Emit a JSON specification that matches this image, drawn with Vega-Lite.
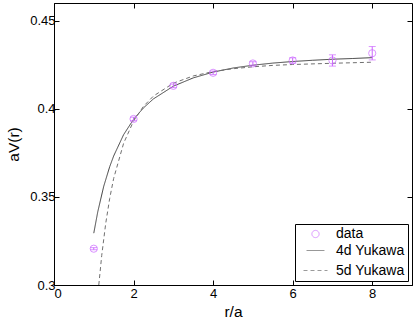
{
  "$schema": "https://vega.github.io/schema/vega-lite/v6.json",
  "autosize": "none",
  "width": 358,
  "height": 282,
  "padding": {"left": 54, "top": 3, "right": 3, "bottom": 37},
  "background": "white",
  "config": {
    "view": {"stroke": "black", "strokeWidth": 1},
    "axis": {
      "grid": false,
      "domainColor": "black",
      "tickColor": "black",
      "tickSize": -5,
      "labelFont": "Liberation Sans",
      "labelFontSize": 13,
      "labelColor": "black",
      "titleFont": "Liberation Sans",
      "titleFontSize": 15.5,
      "titleFontWeight": "normal",
      "titleColor": "black",
      "labelPadding": 4
    },
    "legend": {
      "orient": "bottom-right", "offset": 4,
      "strokeColor": "black", "fillColor": "white", "padding": 3,
      "labelFont": "Liberation Sans", "labelFontSize": 14, "labelColor": "black",
      "symbolStrokeWidth": 1, "labelOffset": 8, "rowPadding": 0, "symbolOffset": 5
    }
  },
  "datasets": {
    "pts": [
      {"r": 1, "v": 0.3206, "lo": 0.3200, "hi": 0.3212, "series": "data"},
      {"r": 2, "v": 0.3942, "lo": 0.3932, "hi": 0.3952, "series": "data"},
      {"r": 3, "v": 0.4130, "lo": 0.4120, "hi": 0.4140, "series": "data"},
      {"r": 4, "v": 0.4204, "lo": 0.4194, "hi": 0.4214, "series": "data"},
      {"r": 5, "v": 0.4257, "lo": 0.4247, "hi": 0.4267, "series": "data"},
      {"r": 6, "v": 0.4274, "lo": 0.4259, "hi": 0.4289, "series": "data"},
      {"r": 7, "v": 0.4274, "lo": 0.4242, "hi": 0.4306, "series": "data"},
      {"r": 8, "v": 0.4315, "lo": 0.4277, "hi": 0.4353, "series": "data"}
    ],
    "curves": [
      {"r": 1.0, "v": 0.3294, "series": "4d Yukawa"},
      {"r": 1.1, "v": 0.3415, "series": "4d Yukawa"},
      {"r": 1.25, "v": 0.3560, "series": "4d Yukawa"},
      {"r": 1.4, "v": 0.3671, "series": "4d Yukawa"},
      {"r": 1.5, "v": 0.3732, "series": "4d Yukawa"},
      {"r": 1.75, "v": 0.3853, "series": "4d Yukawa"},
      {"r": 2.0, "v": 0.3940, "series": "4d Yukawa"},
      {"r": 2.25, "v": 0.4005, "series": "4d Yukawa"},
      {"r": 2.5, "v": 0.4056, "series": "4d Yukawa"},
      {"r": 3.0, "v": 0.4128, "series": "4d Yukawa"},
      {"r": 3.5, "v": 0.4175, "series": "4d Yukawa"},
      {"r": 4.0, "v": 0.4208, "series": "4d Yukawa"},
      {"r": 4.5, "v": 0.4231, "series": "4d Yukawa"},
      {"r": 5.0, "v": 0.4247, "series": "4d Yukawa"},
      {"r": 5.5, "v": 0.4259, "series": "4d Yukawa"},
      {"r": 6.0, "v": 0.4268, "series": "4d Yukawa"},
      {"r": 6.5, "v": 0.4275, "series": "4d Yukawa"},
      {"r": 7.0, "v": 0.4281, "series": "4d Yukawa"},
      {"r": 7.5, "v": 0.4285, "series": "4d Yukawa"},
      {"r": 8.0, "v": 0.4290, "series": "4d Yukawa"},
      {"r": 1.126, "v": 0.3000, "series": "5d Yukawa"},
      {"r": 1.2, "v": 0.3168, "series": "5d Yukawa"},
      {"r": 1.3, "v": 0.3349, "series": "5d Yukawa"},
      {"r": 1.4, "v": 0.3491, "series": "5d Yukawa"},
      {"r": 1.5, "v": 0.3605, "series": "5d Yukawa"},
      {"r": 1.75, "v": 0.3804, "series": "5d Yukawa"},
      {"r": 2.0, "v": 0.3930, "series": "5d Yukawa"},
      {"r": 2.25, "v": 0.4014, "series": "5d Yukawa"},
      {"r": 2.5, "v": 0.4072, "series": "5d Yukawa"},
      {"r": 3.0, "v": 0.4145, "series": "5d Yukawa"},
      {"r": 3.5, "v": 0.4186, "series": "5d Yukawa"},
      {"r": 4.0, "v": 0.4211, "series": "5d Yukawa"},
      {"r": 4.5, "v": 0.4227, "series": "5d Yukawa"},
      {"r": 5.0, "v": 0.4238, "series": "5d Yukawa"},
      {"r": 5.5, "v": 0.4246, "series": "5d Yukawa"},
      {"r": 6.0, "v": 0.4251, "series": "5d Yukawa"},
      {"r": 7.0, "v": 0.4258, "series": "5d Yukawa"},
      {"r": 8.0, "v": 0.4264, "series": "5d Yukawa"}
    ]
  },
  "resolve": {"scale": {"x": "independent", "y": "independent"}},
  "layer": [
    {
      "layer": [
        {
          "data": {"name": "curves"},
          "mark": {"type": "line", "strokeWidth": 1, "clip": true},
          "encoding": {
            "x": {"field": "r", "type": "quantitative", "scale": {"domain": [0, 9], "nice": false},
                  "axis": {"orient": "bottom", "title": "r/a", "values": [0, 2, 4, 6, 8], "labelPadding": 7, "titlePadding": 4}},
            "y": {"field": "v", "type": "quantitative", "scale": {"domain": [0.3, 0.46], "nice": false, "zero": false},
                  "axis": {"orient": "left", "title": "aV(r)", "values": [0.3, 0.35, 0.4, 0.45], "format": ".2~f", "titlePadding": 8}},
            "color": {"field": "series", "type": "nominal",
                      "scale": {"domain": ["data", "4d Yukawa", "5d Yukawa"], "range": ["#CC66FF", "#404040", "#707070"]},
                      "legend": {"title": null}},
            "strokeDash": {"field": "series", "type": "nominal",
                           "scale": {"domain": ["data", "4d Yukawa", "5d Yukawa"], "range": [[1, 0], [1, 0], [4, 3]]},
                           "legend": {"title": null}}
          }
        },
        {
          "data": {"name": "pts"},
          "mark": {"type": "rule", "strokeWidth": 1, "color": "#CC66FF"},
          "encoding": {
            "x": {"field": "r", "type": "quantitative"},
            "y": {"field": "lo", "type": "quantitative"},
            "y2": {"field": "hi"}
          }
        },
        {
          "data": {"name": "pts"},
          "mark": {"type": "tick", "orient": "horizontal", "size": 7, "thickness": 1, "color": "#CC66FF"},
          "encoding": {
            "x": {"field": "r", "type": "quantitative"},
            "y": {"field": "lo", "type": "quantitative"}
          }
        },
        {
          "data": {"name": "pts"},
          "mark": {"type": "tick", "orient": "horizontal", "size": 7, "thickness": 1, "color": "#CC66FF"},
          "encoding": {
            "x": {"field": "r", "type": "quantitative"},
            "y": {"field": "hi", "type": "quantitative"}
          }
        },
        {
          "data": {"name": "pts"},
          "mark": {"type": "point", "filled": false, "strokeWidth": 1},
          "encoding": {
            "x": {"field": "r", "type": "quantitative"},
            "y": {"field": "v", "type": "quantitative"},
            "color": {"field": "series", "type": "nominal", "legend": {"title": null}},
            "shape": {"field": "series", "type": "nominal",
                      "scale": {"domain": ["data", "4d Yukawa", "5d Yukawa"], "range": ["circle", "stroke", "stroke"]},
                      "legend": {"title": null}},
            "size": {"field": "series", "type": "nominal",
                     "scale": {"domain": ["data", "4d Yukawa", "5d Yukawa"], "range": [52, 576, 576]},
                     "legend": {"title": null}}
          }
        }
      ]
    },
    {
      "data": {"name": "pts"},
      "mark": {"type": "point", "opacity": 0},
      "encoding": {
        "x": {"field": "r", "type": "quantitative", "scale": {"domain": [0, 9], "nice": false},
              "axis": {"orient": "top", "labels": false, "title": null, "values": [0, 2, 4, 6, 8], "domain": false}},
        "y": {"field": "v", "type": "quantitative", "scale": {"domain": [0.3, 0.46], "nice": false, "zero": false},
              "axis": {"orient": "right", "labels": false, "title": null, "values": [0.3, 0.35, 0.4, 0.45], "domain": false}}
      }
    }
  ]
}
